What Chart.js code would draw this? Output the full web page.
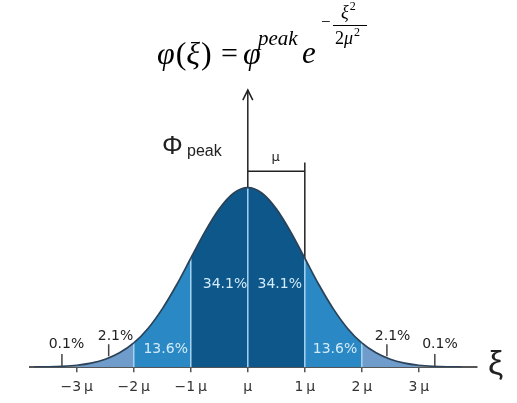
<!DOCTYPE html>
<html>
<head>
<meta charset="utf-8">
<script src="https://cdn.jsdelivr.net/npm/chart.js@4/dist/chart.umd.min.js"></script>
<style>
    body { margin: 0; background: #fff; }
    #wrap { width: 517px; height: 403px; }
</style>
</head>
<body>
<div id="wrap"><canvas id="bellChart"></canvas></div>
<script>
// Curve samples, in standard deviations (μ) and fraction of the peak height
const xValues = [-3.75, -3.5, -3.25, -3, -2.75, -2.5, -2.25, -2, -1.75, -1.5, -1.25, -1,
    -0.75, -0.5, -0.25, 0, 0.25, 0.5, 0.75, 1, 1.25, 1.5, 1.75, 2, 2.25, 2.5, 2.75, 3,
    3.25, 3.5, 3.75];
const curveHeights = [0.001, 0.002, 0.005, 0.011, 0.023, 0.044, 0.080, 0.135, 0.216, 0.325,
    0.458, 0.607, 0.755, 0.882, 0.969, 1.000, 0.969, 0.882, 0.755, 0.607, 0.458, 0.325,
    0.216, 0.135, 0.080, 0.044, 0.023, 0.011, 0.005, 0.002, 0.001];

const dividerX = [-2, -1, 0, 1, 2];
const xTickValues = [-3, -2, -1, 0, 1, 2, 3];
const xTickLabels = ['\u22123\u2009\u03bc', '\u22122\u2009\u03bc', '\u22121\u2009\u03bc', '\u03bc',
    '1\u2009\u03bc', '2\u2009\u03bc', '3\u2009\u03bc'];
const bandLabels = ['0.1%', '2.1%', '13.6%', '34.1%', '34.1%', '13.6%', '2.1%', '0.1%'];

// axis arrow top, bracket height and bracket tick top
const arrowTop = 1.544;
const bracketY = 1.091;
const bracketTop = 1.141;

const heightAt = x => curveHeights[xValues.indexOf(x)];

function bandColor(x) {
    const a = Math.abs(x);
    if (a < 1) return '#0d578b';
    if (a < 2) return '#2a88c4';
    if (a < 3) return '#6f9ccb';
    return 'rgba(175,198,218,0.55)';
}

// where each percentage sits, with an optional pointer line (x, yTop, yBottom)
const labelSpots = [
    { x: -3.18, y: 0.128, light: false, pointer: [-3.26, 0.073, 0.006] },
    { x: -2.32, y: 0.173, light: false, pointer: [-2.44, 0.128, 0.061] },
    { x: -1.44, y: 0.100, light: true },
    { x: -0.40, y: 0.464, light: true },
    { x: 0.56, y: 0.464, light: true },
    { x: 1.53, y: 0.100, light: true },
    { x: 2.54, y: 0.173, light: false, pointer: [2.44, 0.128, 0.061] },
    { x: 3.37, y: 0.128, light: false, pointer: [3.28, 0.073, 0.006] }
];

const annotations = {
    id: 'annotations',
    afterDatasetsDraw(chart) {
        const { ctx, scales: { x, y } } = chart;
        ctx.save();

        // arrow head on the vertical axis
        const ax = x.getPixelForValue(0);
        const ay = y.getPixelForValue(arrowTop);
        ctx.strokeStyle = '#222';
        ctx.lineWidth = 1.5;
        ctx.beginPath();
        ctx.moveTo(ax - 5, ay + 10);
        ctx.lineTo(ax, ay);
        ctx.lineTo(ax + 5, ay + 10);
        ctx.stroke();

        // percentage labels
        ctx.font = '14px "DejaVu Sans"';
        ctx.textAlign = 'center';
        ctx.textBaseline = 'middle';
        labelSpots.forEach((spot, i) => {
            ctx.fillStyle = spot.light ? '#d3ebfa' : '#222';
            ctx.fillText(bandLabels[i], x.getPixelForValue(spot.x), y.getPixelForValue(spot.y));
            if (spot.pointer) {
                const [px, top, bottom] = spot.pointer;
                ctx.strokeStyle = '#444';
                ctx.lineWidth = 1.5;
                ctx.beginPath();
                ctx.moveTo(x.getPixelForValue(px), y.getPixelForValue(top));
                ctx.lineTo(x.getPixelForValue(px), y.getPixelForValue(bottom));
                ctx.stroke();
            }
        });

        // bracket label
        ctx.fillStyle = '#222';
        ctx.font = '13px "DejaVu Sans"';
        ctx.fillText('\u03bc', x.getPixelForValue(0.49), y.getPixelForValue(1.165));

        // peak label
        ctx.textAlign = 'left';
        ctx.textBaseline = 'alphabetic';
        ctx.font = '26px "Liberation Sans"';
        ctx.fillText('\u03a6', 162, 154);
        ctx.font = '16px "Liberation Sans"';
        ctx.fillText('peak', 187, 156);

        // xi on the right of the axis
        ctx.font = '34px "Liberation Sans"';
        ctx.fillText('\u03be', 488, 374);

        // formula
        ctx.fillStyle = '#000';
        let cx = 157;
        const put = (txt, font, px, base) => {
            ctx.font = font;
            ctx.fillText(txt, px, base);
            return px + ctx.measureText(txt).width;
        };
        cx = put('\u03c6', 'italic 32px "Liberation Serif"', cx, 64);
        cx = put('(', '32px "Liberation Serif"', cx + 1, 64);
        cx = put('\u03be', 'italic 32px "Liberation Serif"', cx, 64);
        put(')', '32px "Liberation Serif"', cx + 1, 64);
        put('=', '30px "Liberation Serif"', 221, 63);
        put('\u03c6', 'italic 32px "Liberation Serif"', 243, 64);
        put('peak', 'italic 21px "Liberation Serif"', 258, 45);
        put('e', 'italic 31px "Liberation Serif"', 302, 63);
        put('\u2212', '17px "Liberation Serif"', 321, 27);
        cx = put('\u03be', 'italic 18px "Liberation Serif"', 341, 18);
        put('2', '12px "Liberation Serif"', cx + 1, 10);
        ctx.strokeStyle = '#000';
        ctx.lineWidth = 1;
        ctx.beginPath();
        ctx.moveTo(333, 25.5);
        ctx.lineTo(367, 25.5);
        ctx.stroke();
        cx = put('2', '18px "Liberation Serif"', 335, 44);
        cx = put('\u03bc', 'italic 18px "Liberation Serif"', cx, 44);
        put('2', '12px "Liberation Serif"', cx + 1, 36);

        ctx.restore();
    }
};

const datasets = [
    {
        // the bell curve, filled band by band
        data: xValues.map((v, i) => ({ x: v, y: curveHeights[i] })),
        borderColor: '#2b4258',
        borderWidth: 1.7,
        fill: 'origin',
        backgroundColor: '#0d578b',
        cubicInterpolationMode: 'monotone',
        segment: {
            backgroundColor: ctx => bandColor((ctx.p0.parsed.x + ctx.p1.parsed.x) / 2)
        }
    },
    {
        // vertical axis above the peak
        data: [{ x: 0, y: 1 }, { x: 0, y: arrowTop }],
        borderColor: '#222',
        borderWidth: 1.5
    },
    {
        // bracket marking one μ
        data: [{ x: 0, y: bracketY }, { x: 1, y: bracketY }],
        borderColor: '#222',
        borderWidth: 1.5
    },
    {
        data: [{ x: 1, y: bracketTop }, { x: 1, y: heightAt(1) }],
        borderColor: '#222',
        borderWidth: 1.5
    },
    // light dividers between the bands
    ...dividerX.map(d => ({
        data: [{ x: d, y: 0 }, { x: d, y: heightAt(d) }],
        borderColor: '#a6d3f0',
        borderWidth: 1.5
    }))
];

new Chart(document.getElementById('bellChart'), {
    type: 'line',
    data: { datasets },
    options: {
        responsive: true,
        maintainAspectRatio: false,
        animation: false,
        layout: { padding: { left: 30, right: 40, top: 80, bottom: 0 } },
        elements: { point: { radius: 0 } },
        plugins: {
            legend: { display: false },
            tooltip: { enabled: false },
            filler: { drawTime: 'beforeDatasetsDraw' }
        },
        scales: {
            x: {
                type: 'linear',
                min: -3.82,
                max: 4.02,
                afterBuildTicks: scale => {
                    scale.ticks = xTickValues.map(v => ({ value: v }));
                },
                border: { color: '#555', width: 2 },
                grid: { drawOnChartArea: false, color: '#555', lineWidth: 1.5, tickLength: 5 },
                ticks: {
                    maxRotation: 0,
                    autoSkip: false,
                    padding: 7,
                    color: '#333',
                    font: { family: 'DejaVu Sans', size: 14 },
                    callback: (value, index) => xTickLabels[index]
                }
            },
            y: { display: false, min: 0, max: 1.6 }
        }
    },
    plugins: [annotations]
});
</script>
</body>
</html>
